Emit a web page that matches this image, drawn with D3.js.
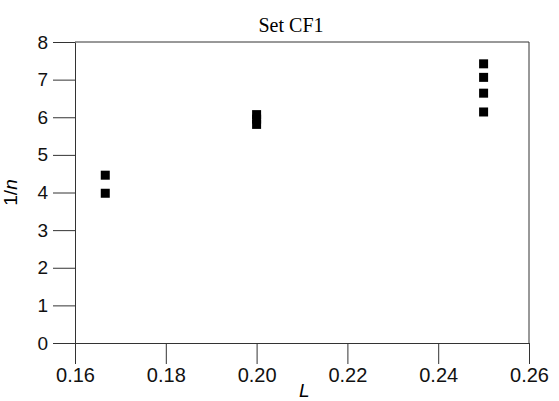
<!DOCTYPE html>
<html>
<head>
<meta charset="utf-8">
<script src="https://cdn.jsdelivr.net/npm/d3@7"></script>
<style>
  body { margin: 0; background: #fff; }
  .axis text { font-family: "Liberation Sans", Arial, sans-serif; fill: #111; }
  .xaxis text { font-size: 20px; }
  .yaxis text { font-size: 19px; }
  .axis line, .axis path { stroke: #333; stroke-width: 1; }
  .frame { stroke: #333; stroke-width: 1; fill: none; }
</style>
</head>
<body>
<div id="chart"></div>
<script>
// L values and 1/n readings, one entry per square
var Lvals  = [1/6, 1/6, 0.20, 0.20, 0.20, 0.25, 0.25, 0.25, 0.25];
var invN   = [4.46, 3.98, 6.07, 5.95, 5.81, 7.42, 7.06, 6.64, 6.14];
var xTicks = [0.16, 0.18, 0.20, 0.22, 0.24, 0.26];
var yTicks = [0, 1, 2, 3, 4, 5, 6, 7, 8];

var margin = {top: 42, right: 30, bottom: 58, left: 75},
    W = 559, H = 401,
    width = W - margin.left - margin.right,
    height = H - margin.top - margin.bottom;

var svg = d3.select("#chart").append("svg")
    .attr("width", W)
    .attr("height", H)
  .append("g")
    .attr("transform", "translate(" + margin.left + "," + margin.top + ")");

var x = d3.scaleLinear().domain([0.16, 0.26]).range([0, width]);
var y = d3.scaleLinear().domain([0, 8]).range([height, 0]);

var xAxis = d3.axisBottom(x)
    .tickValues(xTicks)
    .tickFormat(d3.format(".2f"))
    .tickSize(21)
    .tickSizeOuter(0)
    .tickPadding(4);

var yAxis = d3.axisLeft(y)
    .tickValues(yTicks)
    .tickFormat(d3.format("d"))
    .tickSize(22)
    .tickSizeOuter(0)
    .tickPadding(5);

svg.append("g")
    .attr("class", "axis xaxis")
    .attr("transform", "translate(0," + height + ")")
    .call(xAxis);

svg.append("g")
    .attr("class", "axis yaxis")
    .call(yAxis);

// top border (runs into the "8" tick) and right border
svg.append("path")
    .attr("class", "frame")
    .attr("d", "M" + x(0.16) + "," + y(8) + "H" + x(0.26) + "V" + y(0));

// squares
var sz = 9;
svg.selectAll(".pt")
    .data(Lvals)
  .enter().append("rect")
    .attr("class", "pt")
    .attr("x", function(d) { return x(d) - sz/2; })
    .attr("y", function(d, i) { return y(invN[i]) - sz/2; })
    .attr("width", sz)
    .attr("height", sz)
    .attr("fill", "#000");

// title
svg.append("text")
    .attr("x", 216)
    .attr("y", -10)
    .attr("text-anchor", "middle")
    .style("font-family", "'Liberation Serif', 'Times New Roman', serif")
    .style("font-size", "20px")
    .text("Set CF1");

// axis labels
svg.append("text")
    .attr("x", x(0.2105))
    .attr("y", height + 54)
    .attr("text-anchor", "middle")
    .style("font-family", "'Liberation Sans', Arial, sans-serif")
    .style("font-size", "19px")
    .style("font-style", "italic")
    .text("L");

var yl = svg.append("text")
    .attr("transform", "translate(" + (-58) + "," + (height/2) + ") rotate(-90)")
    .attr("text-anchor", "middle")
    .style("font-family", "'Liberation Sans', Arial, sans-serif")
    .style("font-size", "19px");
yl.append("tspan").text("1/");
yl.append("tspan").style("font-style", "italic").text("n");
</script>
</body>
</html>
